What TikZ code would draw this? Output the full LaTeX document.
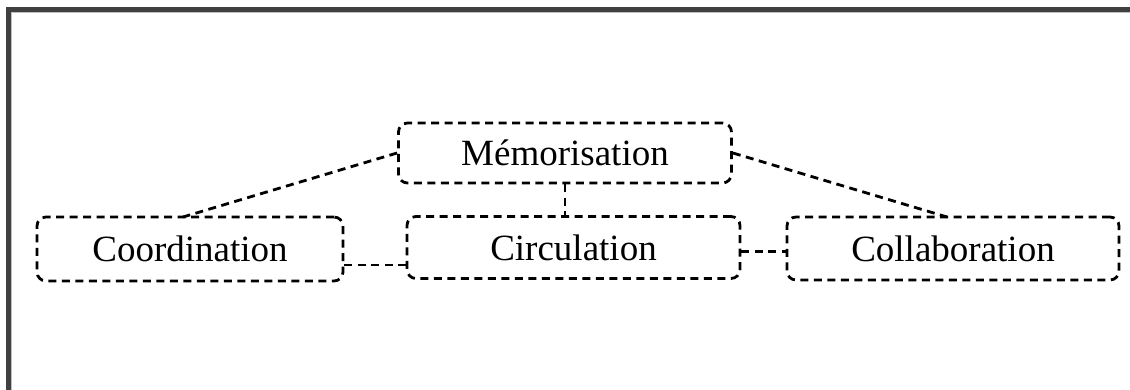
\documentclass[tikz,border=0pt]{standalone}
\usepackage{fontspec}
\setmainfont{Liberation Serif}
\begin{document}
\begin{tikzpicture}[x=1pt,y=-1pt,
  concept/.style={draw=black, line width=2.8pt, dash pattern=on 8pt off 5.5pt,
    rounded corners=9pt, inner sep=0pt, font=\fontsize{37}{40}\selectfont},
  link/.style={draw=black, line width=2.8pt, dash pattern=on 8pt off 5.5pt}]
\useasboundingbox (0,0) rectangle (1130,390);
% frame edge
\fill[white] (0,0) rectangle (1130,390);
\fill[black!75] (6,7) rectangle (1130,12);
\fill[black!75] (6,7) rectangle (11,390);
\draw[black!25, line width=0.8pt] (11.4,1130) -- (11.4,12.4) -- (1130,12.4);
% concepts
\node[concept, minimum width=333pt, minimum height=60pt] (mem) at (565,153) {Mémorisation};
\node[concept, minimum width=306pt, minimum height=64pt] (coord) at (190,249) {Coordination};
\node[concept, minimum width=333pt, minimum height=62pt] (circ) at (573.5,247.5) {Circulation};
\node[concept, minimum width=332pt, minimum height=63pt] (coll) at (953,248.5) {Collaboration};
% links
\coordinate (coordtop) at (183,217);
\coordinate (colltop) at (947,217);
\draw[link] (mem.west) -- (coordtop);
\draw[link] (mem.east) -- (colltop);
\draw[link] (mem.south) -- (mem.south |- circ.north);
\draw[link] ([yshift=-16pt]coord.east) -- ([yshift=-16pt]coord.east -| circ.west);
\draw[link] ([yshift=-4pt]circ.east) -- ([yshift=-4pt]circ.east -| coll.west);
\end{tikzpicture}
\end{document}
